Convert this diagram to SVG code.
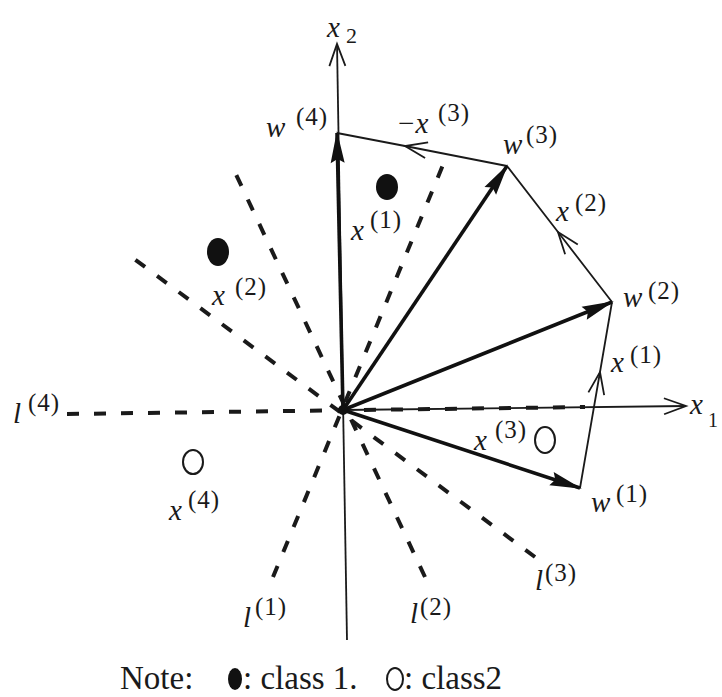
<svg xmlns="http://www.w3.org/2000/svg" width="722" height="697" viewBox="0 0 722 697">
<style>
text{font-family:"Liberation Serif","Times New Roman",serif;fill:#1a1a1a}
.b{font-size:29px;font-style:italic}
.s{font-size:25px;letter-spacing:1px}
.thin{stroke:#1a1a1a;stroke-width:1.8;fill:none}
.thick{stroke:#111;stroke-width:3.6;fill:none;marker-end:url(#fa)}
.dash{stroke:#1a1a1a;stroke-width:4;fill:none;stroke-dasharray:12 15}
.note{font-size:33px}
</style>
<defs>
<marker id="fa" markerUnits="userSpaceOnUse" orient="auto" refX="0" refY="0" overflow="visible">
<path d="M2,0 L-30,-7 L-26,0 L-30,7 Z" fill="#111"/>
</marker>
<marker id="oa" markerUnits="userSpaceOnUse" orient="auto" refX="0" refY="0" overflow="visible">
<path d="M-22,-8 L0,0 L-22,8" fill="none" stroke="#1a1a1a" stroke-width="1.8"/>
</marker>
</defs>
<rect width="722" height="697" fill="#fff"/>
<g id="connectors">
<path class="thin" d="M347,640 L337,44" marker-end="url(#oa)"/>
<path class="thin" d="M343,410 L686,406" marker-end="url(#oa)"/>
<path class="dash" d="M273,577 L445,160"/>
<path class="dash" d="M425,577 L233,168"/>
<path class="dash" d="M535,557 L133,258"/>
<path class="dash" d="M67,414 L585,407"/>
<path class="thin" d="M580,488 L600,372 L612,302" marker-mid="url(#oa)"/>
<path class="thin" d="M612,302 L558,232 L507,166" marker-mid="url(#oa)"/>
<path class="thin" d="M507,166 L405,146 L337,133" marker-mid="url(#oa)"/>
<path class="thick" d="M343,410 L580,488"/>
<path class="thick" d="M343,410 L612,302"/>
<path class="thick" d="M343,410 L507,166"/>
<path class="thick" d="M343,410 L337,133"/>
<circle cx="343" cy="410" r="5" fill="#111"/>
</g>
<g id="axis-x2"><text class="b" x="327" y="37">x</text><text x="346" y="43" style="font-size:22px">2</text></g>
<g id="axis-x1"><text class="b" x="690" y="414">x</text><text x="708" y="427" style="font-size:20px">1</text></g>
<g id="w4"><text class="b" x="266" y="137">w</text><text class="s" x="296" y="125">(4)</text></g>
<g id="minus-x3"><text class="b" x="396" y="133">−x</text><text class="s" x="438" y="121">(3)</text></g>
<g id="w3"><text class="b" x="503" y="154">w</text><text class="s" x="526" y="143">(3)</text></g>
<g id="x2-right"><text class="b" x="556" y="221">x</text><text class="s" x="575" y="211">(2)</text></g>
<g id="w2"><text class="b" x="623" y="307">w</text><text class="s" x="648" y="299">(2)</text></g>
<g id="x1-right"><text class="b" x="611" y="372">x</text><text class="s" x="630" y="363">(1)</text></g>
<g id="w1"><text class="b" x="591" y="512">w</text><text class="s" x="616" y="502">(1)</text></g>
<g id="p1"><ellipse cx="387" cy="187" rx="11" ry="13" fill="#111"/><text class="b" x="351" y="240">x</text><text class="s" x="370" y="228">(1)</text></g>
<g id="p2"><ellipse cx="218" cy="252" rx="11" ry="14" fill="#111"/><text class="b" x="212" y="305">x</text><text class="s" x="235" y="295">(2)</text></g>
<g id="p3"><ellipse cx="545" cy="440" rx="10" ry="13" fill="none" stroke="#1a1a1a" stroke-width="2"/><text class="b" x="474" y="450">x</text><text class="s" x="495" y="438">(3)</text></g>
<g id="p4"><ellipse cx="193" cy="462" rx="10" ry="12" fill="none" stroke="#1a1a1a" stroke-width="2"/><text class="b" x="169" y="520">x</text><text class="s" x="188" y="508">(4)</text></g>
<g id="l4"><text class="b" x="13" y="423">l</text><text class="s" x="28" y="411">(4)</text></g>
<g id="l1"><text class="b" x="243" y="627">l</text><text class="s" x="255" y="615">(1)</text></g>
<g id="l2"><text class="b" x="410" y="623">l</text><text class="s" x="420" y="615">(2)</text></g>
<g id="l3"><text class="b" x="535" y="590">l</text><text class="s" x="545" y="581">(3)</text></g>
<g id="note">
<text class="note" x="120" y="689">Note:</text>
<ellipse cx="235" cy="679" rx="7" ry="11" fill="#111"/>
<text class="note" x="243" y="689">: class 1.</text>
<ellipse cx="395" cy="679" rx="8" ry="11" fill="none" stroke="#1a1a1a" stroke-width="2"/>
<text class="note" x="404" y="689">: class2</text>
</g>
</svg>
